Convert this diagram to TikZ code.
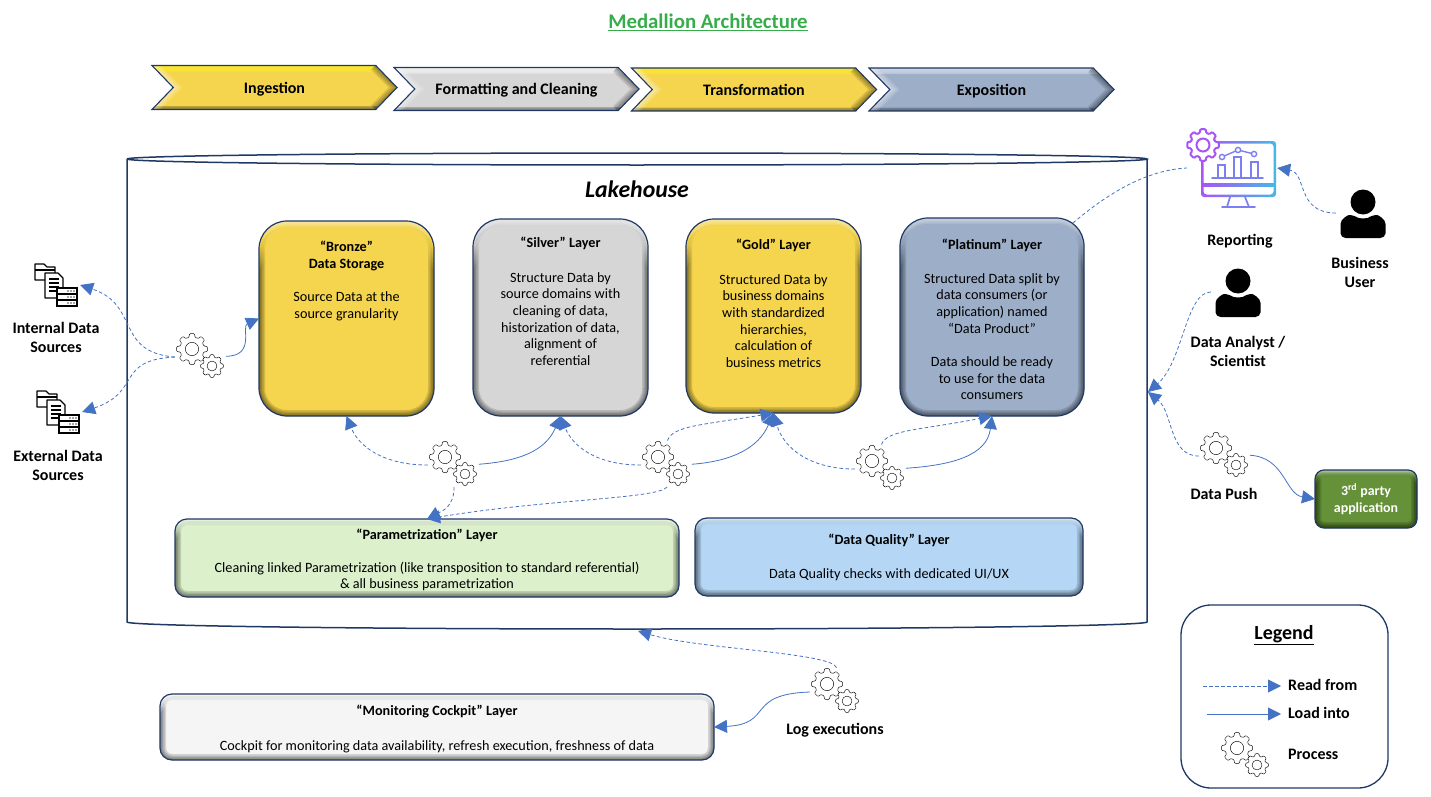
\documentclass[tikz,border=0pt]{standalone}
\usepackage{fontspec}
\setmainfont{Carlito}
\usetikzlibrary{positioning,arrows.meta,shapes.symbols}

\definecolor{navy}{HTML}{1F3864}
\definecolor{arrowblue}{HTML}{4472C4}
\definecolor{goldfill}{HTML}{F5D54E}
\definecolor{silverfill}{HTML}{D6D6D6}
\definecolor{platinumfill}{HTML}{9DAFC8}
\definecolor{paramfill}{HTML}{DCF0CC}
\definecolor{qualityfill}{HTML}{B5D7F5}
\definecolor{cockpitfill}{HTML}{F5F5F5}
\definecolor{partyfill}{HTML}{659138}
\definecolor{titlegreen}{HTML}{35AE4A}
\definecolor{rpurple}{HTML}{A855F7}
\definecolor{rmid}{HTML}{7C7FF2}
\definecolor{rblue}{HTML}{45B8E8}

% bevelled fill of the chevrons
\pgfdeclareverticalshading{bevelgold}{100bp}{color(0bp)=(goldfill!55!black);color(25bp)=(goldfill!55!black);color(29bp)=(goldfill!75!black);color(30bp)=(goldfill);color(68bp)=(goldfill);color(69bp)=(goldfill!70!yellow);color(75bp)=(goldfill!60!yellow);color(100bp)=(goldfill)}
\pgfdeclareverticalshading{bevelsilver}{100bp}{color(0bp)=(silverfill!55!black);color(25bp)=(silverfill!55!black);color(29bp)=(silverfill!75!black);color(30bp)=(silverfill);color(68bp)=(silverfill);color(69bp)=(silverfill!60!white);color(75bp)=(silverfill!40!white);color(100bp)=(white)}
\pgfdeclareverticalshading{bevelplatinum}{100bp}{color(0bp)=(platinumfill!55!black);color(25bp)=(platinumfill!55!black);color(29bp)=(platinumfill!75!black);color(30bp)=(platinumfill);color(68bp)=(platinumfill);color(69bp)=(platinumfill!70!white);color(75bp)=(platinumfill!50!white);color(100bp)=(white)}

\def\drawgear#1#2{\draw[line width=.45pt,rounded corners=.8pt,fill=white,shift={(#1)}]
  (-15:.78*#2) \foreach \a in {0,45,...,315}{ -- (\a-15:.78*#2) -- (\a-9:#2) -- (\a+9:#2) -- (\a+15:.78*#2)} -- cycle;
  \draw[line width=.45pt,shift={(#1)}] (0,0) circle (.43*#2);}

\tikzset{
  bodyfont/.style={font=\fontsize{14.2}{16.6}\selectfont},
  boldfont/.style={font=\fontsize{16}{19}\selectfont\bfseries},
  chevron/.style={signal,signal to=east,signal from=west,signal pointer angle=92,
    draw=navy,line width=1.1pt,shade,shading=#1,minimum width=245pt,minimum height=44pt,
    inner sep=0pt,text height=14pt,text depth=2pt,font=\fontsize{16}{18}\selectfont\bfseries,
    path picture={
      \foreach \w in {3,6,9,12} {
        \draw[black,opacity=.1,line width=\w pt] ([xshift=-22pt]path picture bounding box.north east)
          -- (path picture bounding box.east) -- ([xshift=-22pt]path picture bounding box.south east);
        \draw[white,opacity=.13,line width=\w pt] (path picture bounding box.north west)
          -- ([xshift=22pt]path picture bounding box.west) -- (path picture bounding box.south west);
      }}},
  bevelbox/.style 2 args={draw=navy,line width=1.2pt,fill=#1,rounded corners=#2,
    inner sep=0pt,outer sep=0pt,path picture={
      \foreach \k in {.2,.4,.6,.8,1} {
        \pgfmathsetmacro{\d}{\k*#2}
        \begin{scope}
          \clip ([yshift=-\d pt]path picture bounding box.north west) rectangle (path picture bounding box.south east);
          \foreach \w in {3,6,9,12}
            \draw[black,opacity=.028,line width=\w pt,rounded corners=#2]
              (path picture bounding box.north west) rectangle (path picture bounding box.south east);
        \end{scope}
        \begin{scope}
          \clip (path picture bounding box.north west) rectangle ([yshift=-\d pt]path picture bounding box.north east);
          \foreach \w in {3,6,9,12}
            \draw[white,opacity=.035,line width=\w pt,rounded corners=#2]
              (path picture bounding box.north west) rectangle (path picture bounding box.south east);
        \end{scope}
      }}},
  layertext/.style={bodyfont,align=center,inner sep=0pt},
  iconlabel/.style={boldfont,align=center,inner sep=0pt},
  readfrom/.style={draw=arrowblue,line width=.8pt,dash pattern=on 3.5pt off 2.5pt,
    -{Triangle[length=13pt,width=13pt,fill=arrowblue]}},
  loadinto/.style={draw=arrowblue,line width=.8pt,-{Triangle[length=13pt,width=13pt,fill=arrowblue]}},
  gearnode/.style={circle,inner sep=0pt,outer sep=0pt},
  gears/.pic={
    \node[gearnode,minimum size=38pt] (-big) at (0,0) {};
    \node[gearnode,minimum size=34pt] (-small) at (20,17) {};
    \drawgear{0,0}{15.5}
    \drawgear{20,17}{11.5}},
  datasource/.pic={
    \node[inner sep=0pt,minimum width=48pt,minimum height=44pt] (-icon) at (0,0) {};
    \draw[line width=1.1pt,fill=white,line join=round] (-21,-5) -- (-21,-21) -- (-12,-21) -- (-9,-18) -- (-1,-18) -- (-1,-5) -- cycle;
    \draw[line width=1.1pt] (-21,-15) -- (-1,-15);
    \draw[line width=1.1pt,fill=white,line join=round] (-11,-12) -- (2,-12) -- (7,-7) -- (7,13) -- (-11,13) -- cycle;
    \foreach \y in {-6,-2,2,6} \draw[line width=1.1pt] (-7,\y) -- (3,\y);
    \foreach \y in {3,9,15} {
      \draw[line width=1.1pt,fill=white] (1,\y) rectangle (21,\y+6);
      \foreach \x in {12,15,18} \fill[black!70] (\x,\y+3) circle (.9);
    }},
  person/.pic={
    \node[inner sep=0pt,minimum width=54pt,minimum height=60pt] (-icon) at (0,0) {};
    \fill (0,-11) circle (12.5);
    \fill[rounded corners=5pt] (-22.5,25) -- (-22.5,16)
      .. controls (-22.5,6) and (-15,2) .. (-9,2) .. controls (-4,5.5) and (4,5.5) .. (9,2)
      .. controls (15,2) and (22.5,6) .. (22.5,16) -- (22.5,25) -- cycle;},
  reporticon/.pic={
    \node[inner sep=0pt,minimum width=90pt,minimum height=60pt] (-icon) at (0,0) {};
    \shade[left color=rpurple,right color=rblue,even odd rule,rounded corners=3pt]
      (-31,-27) rectangle (44,29) (-28.5,-24.5) rectangle (41.5,26.5);
    \shade[left color=rpurple,right color=rblue] (-30,15.5) rectangle (43,18);
    \draw[rmid,line width=1.7pt] (-2,29) -- (-5,39) (13,29) -- (17,39);
    \draw[rmid,line width=1.7pt,line cap=round] (-10,39) -- (23,39);
    \draw[rmid,line width=1.7pt,line cap=round] (-20,10) -- (31,10);
    \foreach \x/\t in {-14/-3,2/-11,19/-6}
      \draw[rmid,line width=1.7pt] (\x,10) -- (\x,\t) -- (\x+7,\t) -- (\x+7,10);
    \draw[rmid,line width=1.4pt] (-10,-11) -- (6,-18) -- (22,-14);
    \foreach \x/\t in {-10/-11,6/-18,22/-14}
      \draw[rmid,line width=1.4pt,fill=white] (\x,\t) circle (2.6);
    \draw[rpurple,line width=2pt,fill=white,rounded corners=1pt,shift={(-29,-23)}]
      (-15:12.5) \foreach \a in {0,45,...,315}{ -- (\a-15:12.5) -- (\a-10:16) -- (\a+10:16) -- (\a+15:12.5)} -- cycle;
    \draw[rpurple,line width=2pt,shift={(-29,-23)}] (0,0) circle (6.5);},
}

\begin{document}
\begin{tikzpicture}[x=1pt,y=-1pt]
    \useasboundingbox (0,0) rectangle (1431,797);

    \node[inner sep=0pt,font=\fontsize{20.8}{24}\selectfont\bfseries,text=titlegreen] (title) at (708,22.5) {\underline{Medallion Architecture}};

    % process steps
    \node[chevron=bevelgold] (ingestion) at (274.5,87.5) {Ingestion};
    \node[chevron=bevelsilver,minimum height=43pt] (formatting) at (516.5,89) {Formatting and Cleaning};
    \node[chevron=bevelgold,minimum height=43pt] (transformation) at (754,89.5) {Transformation};
    \node[chevron=bevelplatinum,minimum height=43pt] (exposition) at (991.5,89.5) {Exposition};

    % lakehouse can
    \draw[navy,line width=1.5pt] (127,159) arc[start angle=180,end angle=-180,x radius=510pt,y radius=6pt]
      (127,159) -- (127,622) arc[start angle=180,end angle=360,x radius=510pt,y radius=7pt] -- (1147,159);
    \node[inner sep=0pt,font=\fontsize{23.8}{26}\selectfont\bfseries\itshape] (lakehouse) at (637,189) {Lakehouse};
    \coordinate (lakeright) at (1148,392);
    \coordinate (lakebottom) at (638,631);

    % layers
    \node[bevelbox={goldfill}{28pt},minimum width=175pt,minimum height=195pt] (bronze) at (346.5,318.5) {};
    \node[bevelbox={silverfill}{28pt},minimum width=175pt,minimum height=197pt] (silver) at (560.5,317.5) {};
    \node[bevelbox={goldfill}{28pt},minimum width=175pt,minimum height=194pt] (gold) at (773.5,316) {};
    \node[bevelbox={platinumfill}{28pt},minimum width=184pt,minimum height=198pt] (platinum) at (992,317) {};
    \node[bevelbox={paramfill}{12pt},minimum width=504pt,minimum height=78pt] (param) at (427,558) {};
    \node[bevelbox={qualityfill}{12pt},minimum width=388pt,minimum height=78pt] (quality) at (889,557) {};
    \node[bevelbox={cockpitfill}{12pt},minimum width=554pt,minimum height=66pt] (cockpit) at (437,727) {};
    \node[bevelbox={partyfill}{9pt},minimum width=102pt,minimum height=58pt] (party) at (1366,499) {};

    \node[layertext,below=20pt of bronze.north] (bronzetext) {\textbf{“Bronze”}\\\textbf{Data Storage}\\[17pt]Source Data at the\\source granularity};
    \node[layertext,below=18pt of silver.north] (silvertext) {\textbf{“Silver” Layer}\\[18pt]Structure Data by\\source domains with\\cleaning of data,\\historization of data,\\alignment of\\referential};
    \node[layertext,below=20pt of gold.north] (goldtext) {\textbf{“Gold” Layer}\\[18pt]Structured Data by\\business domains\\with standardized\\hierarchies,\\calculation of\\business metrics};
    \node[layertext,below=21pt of platinum.north] (platinumtext) {\textbf{“Platinum” Layer}\\[17pt]Structured Data split by\\data consumers (or\\application) named\\“Data Product”\\[17pt]Data should be ready\\to use for the data\\consumers};
    \node[layertext,below=10pt of param.north] (paramtext) {\textbf{“Parametrization” Layer}\\[16pt]Cleaning linked Parametrization (like transposition to standard referential)\\\& all business parametrization};
    \node[layertext,below=16pt of quality.north] (qualitytext) {\textbf{“Data Quality” Layer}\\[17pt]Data Quality checks with dedicated UI/UX};
    \node[layertext,below=11pt of cockpit.north] (cockpittext) {\textbf{“Monitoring Cockpit” Layer}\\[18pt]Cockpit for monitoring data availability, refresh execution, freshness of data};
    \node[inner sep=0pt,align=center,text=white,font=\fontsize{13.9}{17}\selectfont\bfseries] (partytext) at (party) {3\textsuperscript{rd} party\\application};

    % sources and consumers
    \pic (internal) at (56,285) {datasource};
    \pic (external) at (58,412) {datasource};
    \node[iconlabel] (internallabel) at (56,337.5) {Internal Data\\Sources};
    \node[iconlabel] (externallabel) at (58,465.5) {External Data\\Sources};
    \pic (reporting) at (1232,168) {reporticon};
    \pic (business) at (1363,213) {person};
    \pic (analyst) at (1238,292) {person};
    \node[iconlabel] (reportinglabel) at (1240,241.5) {Reporting};
    \node[iconlabel] (businesslabel) at (1360,272.5) {Business\\User};
    \node[iconlabel] (analystlabel) at (1238,351.5) {Data Analyst /\\Scientist};

    % processes
    \pic (ingest) at (192,349) {gears};
    \pic (clean) at (445,457) {gears};
    \pic (transform) at (658,457) {gears};
    \pic (expose) at (872,461) {gears};
    \pic (push) at (1216,448) {gears};
    \pic (logs) at (827,684) {gears};
    \node[iconlabel] (pushlabel) at (1224,493.5) {Data Push};
    \node[iconlabel] (logslabel) at (835,730.5) {Log executions};

    % read and load connectors
    \draw[readfrom] (ingest-big.205) .. controls +(-60,-5) and +(60,20) .. (internal-icon.east);
    \draw[readfrom] (ingest-big.205) .. controls +(-60,3) and +(60,-20) .. (external-icon.east);
    \draw[loadinto] (ingest-small.35) .. controls +(30,0) and +(-18,8) .. (bronze.west);

    \draw[readfrom] (clean-big.205) .. controls +(-45,0) and +(12,30) .. (bronze.south);
    \draw[loadinto] (clean-small.35) .. controls +(40,-3) and +(-15,35) .. (silver.south);
    \draw[readfrom] (clean-small.230) .. controls +(0,20) and +(15,-8) .. (param.north);

    \draw[readfrom] (transform-big.205) .. controls +(-45,0) and +(12,30) .. (silver.south);
    \draw[loadinto] (transform-small.35) .. controls +(40,-3) and +(-15,35) .. (gold.south);
    \draw[readfrom] (transform-big.60) .. controls +(5,-15) and +(-70,12) .. (gold.south);
    \draw[readfrom] (transform-small.230) .. controls +(-10,12) and +(120,-20) .. (param.north);

    \draw[readfrom] (expose-big.205) .. controls +(-45,0) and +(10,35) .. (gold.south);
    \draw[loadinto] (expose-small.35) .. controls +(45,-3) and +(-5,40) .. (platinum.south);
    \draw[readfrom] (expose-big.60) .. controls +(5,-15) and +(-70,14) .. (platinum.south);

    \draw[draw=arrowblue,line width=.8pt,dash pattern=on 3.5pt off 2.5pt] ([xshift=-11pt,yshift=-5pt]platinum.north east) .. controls +(35,-30) and +(-40,2) .. (reporting-icon.west);
    \draw[readfrom] (business-icon.west) .. controls +(-40,0) and +(30,5) .. (reporting-icon.east);
    \draw[readfrom] (analyst-icon.west) .. controls +(-25,0) and +(35,-30) .. (lakeright);
    \draw[readfrom] (push-big.205) .. controls +(-30,0) and +(25,20) .. (lakeright);
    \draw[loadinto] (push-small.35) .. controls +(35,2) and +(-30,-5) .. (party.west);

    \draw[readfrom] (logs-big.60) .. controls +(-5,-15) and +(60,18) .. (lakebottom);
    \draw[loadinto] (logs-big.205) .. controls +(-65,2) and +(60,-3) .. (cockpit.east);

    % legend
    \node[draw=navy,line width=1.3pt,fill=white,rounded corners=30pt,inner sep=0pt,minimum width=207pt,minimum height=183pt] (legend) at (1284.5,696.5) {};
    \node[inner sep=0pt,font=\fontsize{20}{24}\selectfont\bfseries] (legendtitle) at (1284,635.5) {\underline{Legend}};
    \coordinate (readstart) at (1203,686);
    \coordinate (readend) at (1281,686);
    \coordinate (loadstart) at (1207,714);
    \coordinate (loadend) at (1281,714);
    \draw[readfrom] (readstart) -- (readend);
    \draw[loadinto] (loadstart) -- (loadend);
    \pic (legendgears) at (1237,748) {gears};
    \node[iconlabel,anchor=west] (readlabel) at (1288,685) {Read from};
    \node[iconlabel,anchor=west] (loadlabel) at (1288,713) {Load into};
    \node[iconlabel,anchor=west] (processlabel) at (1288,754) {Process};
\end{tikzpicture}
\end{document}
